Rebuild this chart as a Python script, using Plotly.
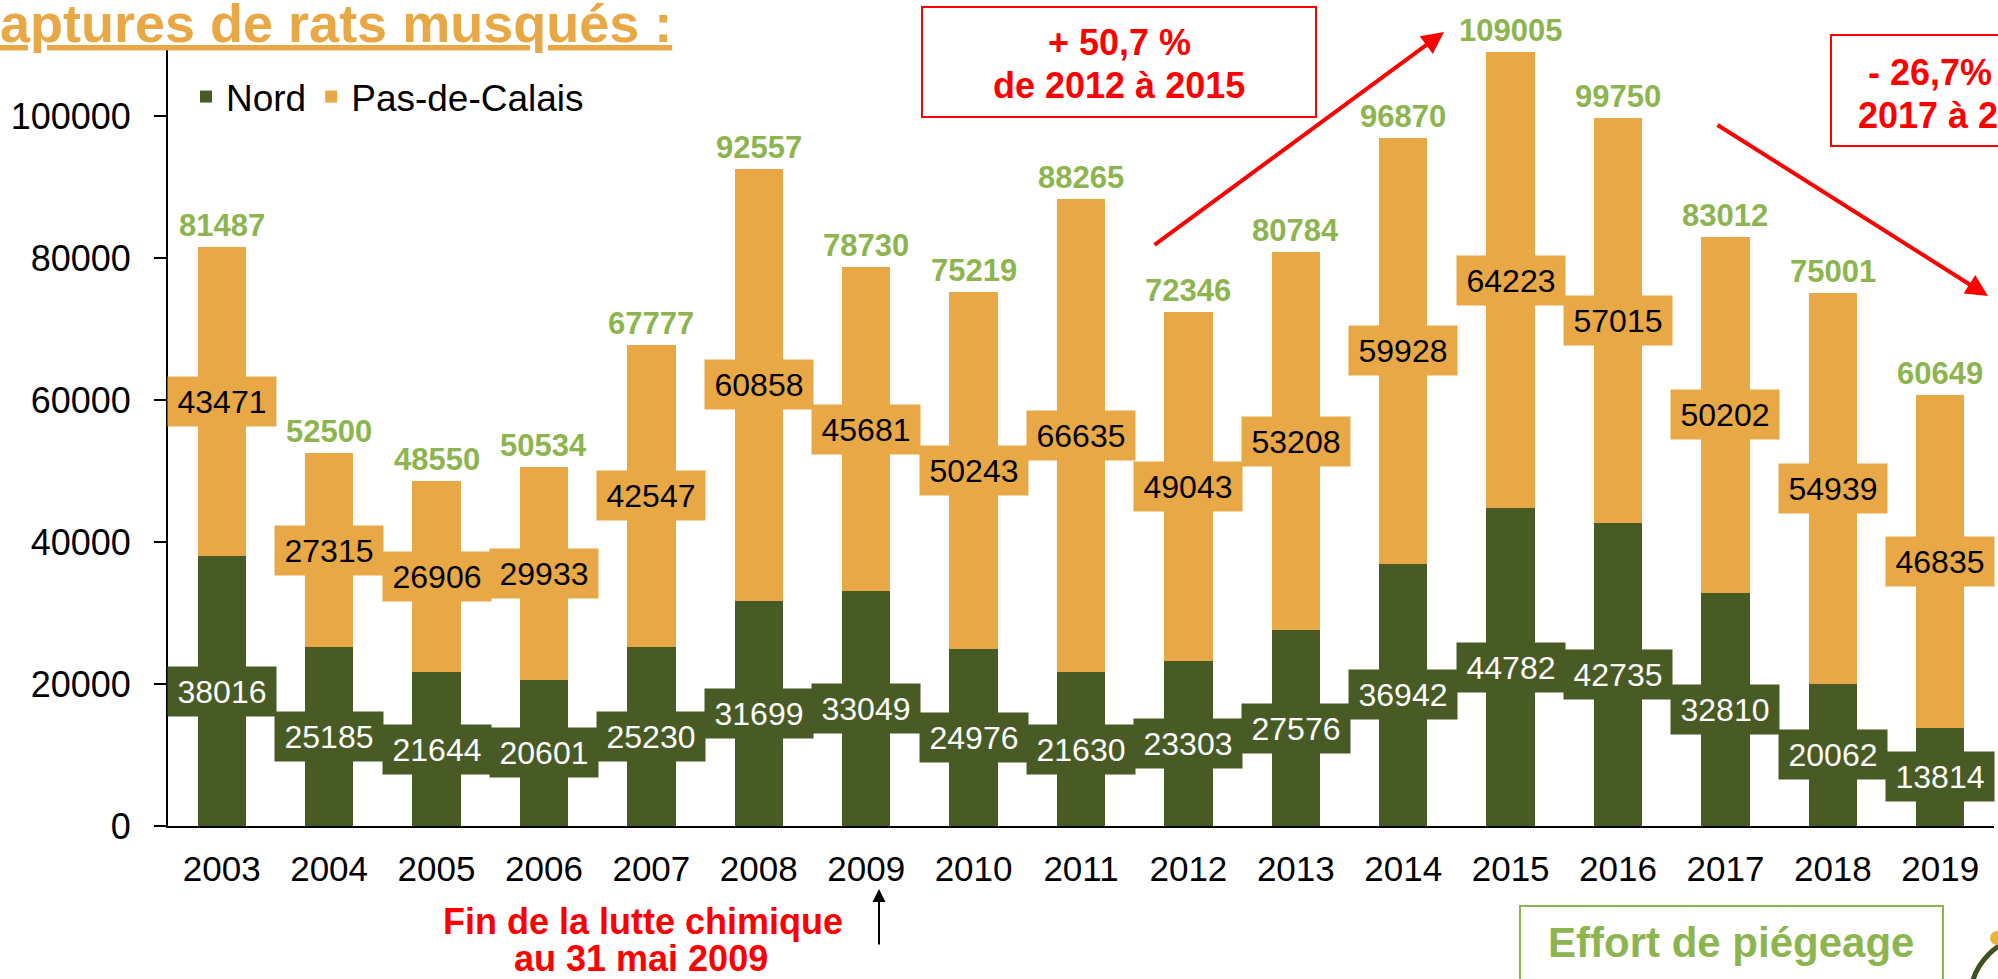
import plotly.graph_objects as go

# ---------------- data ----------------
years = ["2003", "2004", "2005", "2006", "2007", "2008", "2009", "2010", "2011",
         "2012", "2013", "2014", "2015", "2016", "2017", "2018", "2019"]
nord = [38016, 25185, 21644, 20601, 25230, 31699, 33049, 24976, 21630,
        23303, 27576, 36942, 44782, 42735, 32810, 20062, 13814]
pas_de_calais = [43471, 27315, 26906, 29933, 42547, 60858, 45681, 50243, 66635,
                 49043, 53208, 59928, 64223, 57015, 50202, 54939, 46835]
totals = [81487, 52500, 48550, 50534, 67777, 92557, 78730, 75219, 88265,
          72346, 80784, 96870, 109005, 99750, 83012, 75001, 60649]
y_ticks = [0, 20000, 40000, 60000, 80000, 100000]

# ---------------- styling ----------------
W, H = 1998, 979
L, R, T, B = 168, 4, 45, 153
PW, PH = W - L - R, H - T - B
GREEN = "#485B24"
ORANGE = "#E8A845"
LIGHT_GREEN = "#8DB54F"
RED = "#FF0000"
FONT = "Arial, Liberation Sans, sans-serif"


def px(xp):
    return (xp - L) / PW


def py(yp):
    return (T + PH - yp) / PH


def note(xc, yc, text, size, color, **kw):
    d = dict(xref="paper", yref="paper", x=px(xc), y=py(yc), xanchor="center", yanchor="middle",
             text=text, showarrow=False, font=dict(family=FONT, size=size, color=color))
    d.update(kw)
    return d


def box(x0, y0, x1, y1, color):
    return dict(type="rect", xref="paper", yref="paper", x0=px(x0), x1=px(x1), y0=py(y1), y1=py(y0),
                line=dict(color=color, width=2), fillcolor="white", layer="above")


fig = go.Figure()
fig.add_trace(go.Bar(x=years, y=nord, name="Nord", marker=dict(color=GREEN, line=dict(width=0)),
                     width=0.45, hoverinfo="x+y+name"))
fig.add_trace(go.Bar(x=years, y=pas_de_calais, name="Pas-de-Calais",
                     marker=dict(color=ORANGE, line=dict(width=0)), width=0.45, hoverinfo="x+y+name"))

ann = []
for i, yr in enumerate(years):
    ann.append(dict(xref="x", yref="y", x=i, y=nord[i] / 2, text=str(nord[i]), showarrow=False,
                    xanchor="center", yanchor="middle",
                    font=dict(family=FONT, size=32, color="white"),
                    bgcolor=GREEN, width=108, height=49, borderpad=0))
    ann.append(dict(xref="x", yref="y", x=i, y=nord[i] + pas_de_calais[i] / 2, text=str(pas_de_calais[i]),
                    showarrow=False, xanchor="center", yanchor="middle",
                    font=dict(family=FONT, size=32, color="black"),
                    bgcolor=ORANGE, width=108, height=49, borderpad=0))
    ann.append(dict(xref="x", yref="y", x=i, y=totals[i], text="<b>%d</b>" % totals[i], showarrow=False,
                    xanchor="center", yanchor="bottom", yshift=2,
                    font=dict(family=FONT, size=31, color=LIGHT_GREEN)))

# title (cropped at top-left)
ann.append(dict(xref="paper", yref="paper", x=px(-2), y=py(55), xanchor="left", yanchor="bottom",
                text="<b><u>aptures de rats musqués :</u></b>", showarrow=False,
                font=dict(family=FONT, size=54, color=ORANGE)))

# red boxes text
ann.append(note(1119, 43, "<b>+ 50,7 %</b>", 36, RED))
ann.append(note(1119, 86, "<b>de 2012 à 2015</b>", 36, RED))
ann.append(note(1956, 72, "<b>- 26,7% de</b>", 36, RED))
ann.append(note(1958, 115, "<b>2017 à 2019</b>", 36, RED))

# red trend arrows
ann.append(dict(xref="paper", yref="paper", x=px(1444), y=py(32), ax=1153 - 1444, ay=246 - 32,
                text="", showarrow=True, arrowhead=2, arrowsize=1.1, arrowwidth=4, arrowcolor=RED))
ann.append(dict(xref="paper", yref="paper", x=px(1988), y=py(296), ax=1716 - 1988, ay=124 - 296,
                text="", showarrow=True, arrowhead=2, arrowsize=1.1, arrowwidth=4, arrowcolor=RED))

# end of chemical control note
ann.append(note(643, 921, "<b>Fin de la lutte chimique</b>", 36, RED))
ann.append(note(641, 959, "<b>au 31 mai 2009</b>", 36, RED))
ann.append(dict(xref="paper", yref="paper", x=px(879), y=py(889), ax=0, ay=57,
                text="", showarrow=True, arrowhead=2, arrowsize=1.3, arrowwidth=2, arrowcolor="black"))

# Effort de piégeage box text
ann.append(note(1731, 942, "<b>Effort de piégeage</b>", 42, LIGHT_GREEN))

shapes = [
    box(922, 7, 1316, 117, RED),
    box(1831, 35, 2090, 146, RED),
    box(1520, 906, 1943, 990, LIGHT_GREEN),
    dict(type="circle", xref="paper", yref="paper", x0=px(1970), x1=px(2100), y0=py(1065), y1=py(935),
         line=dict(color="#3E5220", width=5)),
    dict(type="circle", xref="paper", yref="paper", x0=px(1990), x1=px(2004), y0=py(945), y1=py(931),
         line=dict(width=0), fillcolor="#E8B43A"),
]

fig.update_layout(
    width=W, height=H,
    margin=dict(l=L, r=R, t=T, b=B, pad=0),
    barmode="stack",
    plot_bgcolor="white", paper_bgcolor="white",
    font=dict(family=FONT, size=36, color="black"),
    showlegend=True,
    legend=dict(orientation="h", x=px(186), y=py(97), xanchor="left", yanchor="middle",
                traceorder="normal", font=dict(family=FONT, size=37, color="black"),
                bgcolor="rgba(0,0,0,0)", itemwidth=30),
    xaxis=dict(type="category", range=[-0.5, 16.5], showline=True, linecolor="black", linewidth=2,
               ticks="", showgrid=False, zeroline=False, tickfont=dict(size=35), ticklabelstandoff=11),
    yaxis=dict(range=[0, 110000], showline=True, linecolor="black", linewidth=2, ticks="outside",
               ticklen=12, tickwidth=2, tickcolor="black", showgrid=False, zeroline=False,
               tickvals=y_ticks, tickformat="d",
               tickfont=dict(size=36), ticklabelstandoff=16),
    annotations=ann,
    shapes=shapes,
)

fig.write_html("out.html", config={"displayModeBar": False},
               post_script="document.body.style.margin='0';document.body.style.overflow='hidden';")
